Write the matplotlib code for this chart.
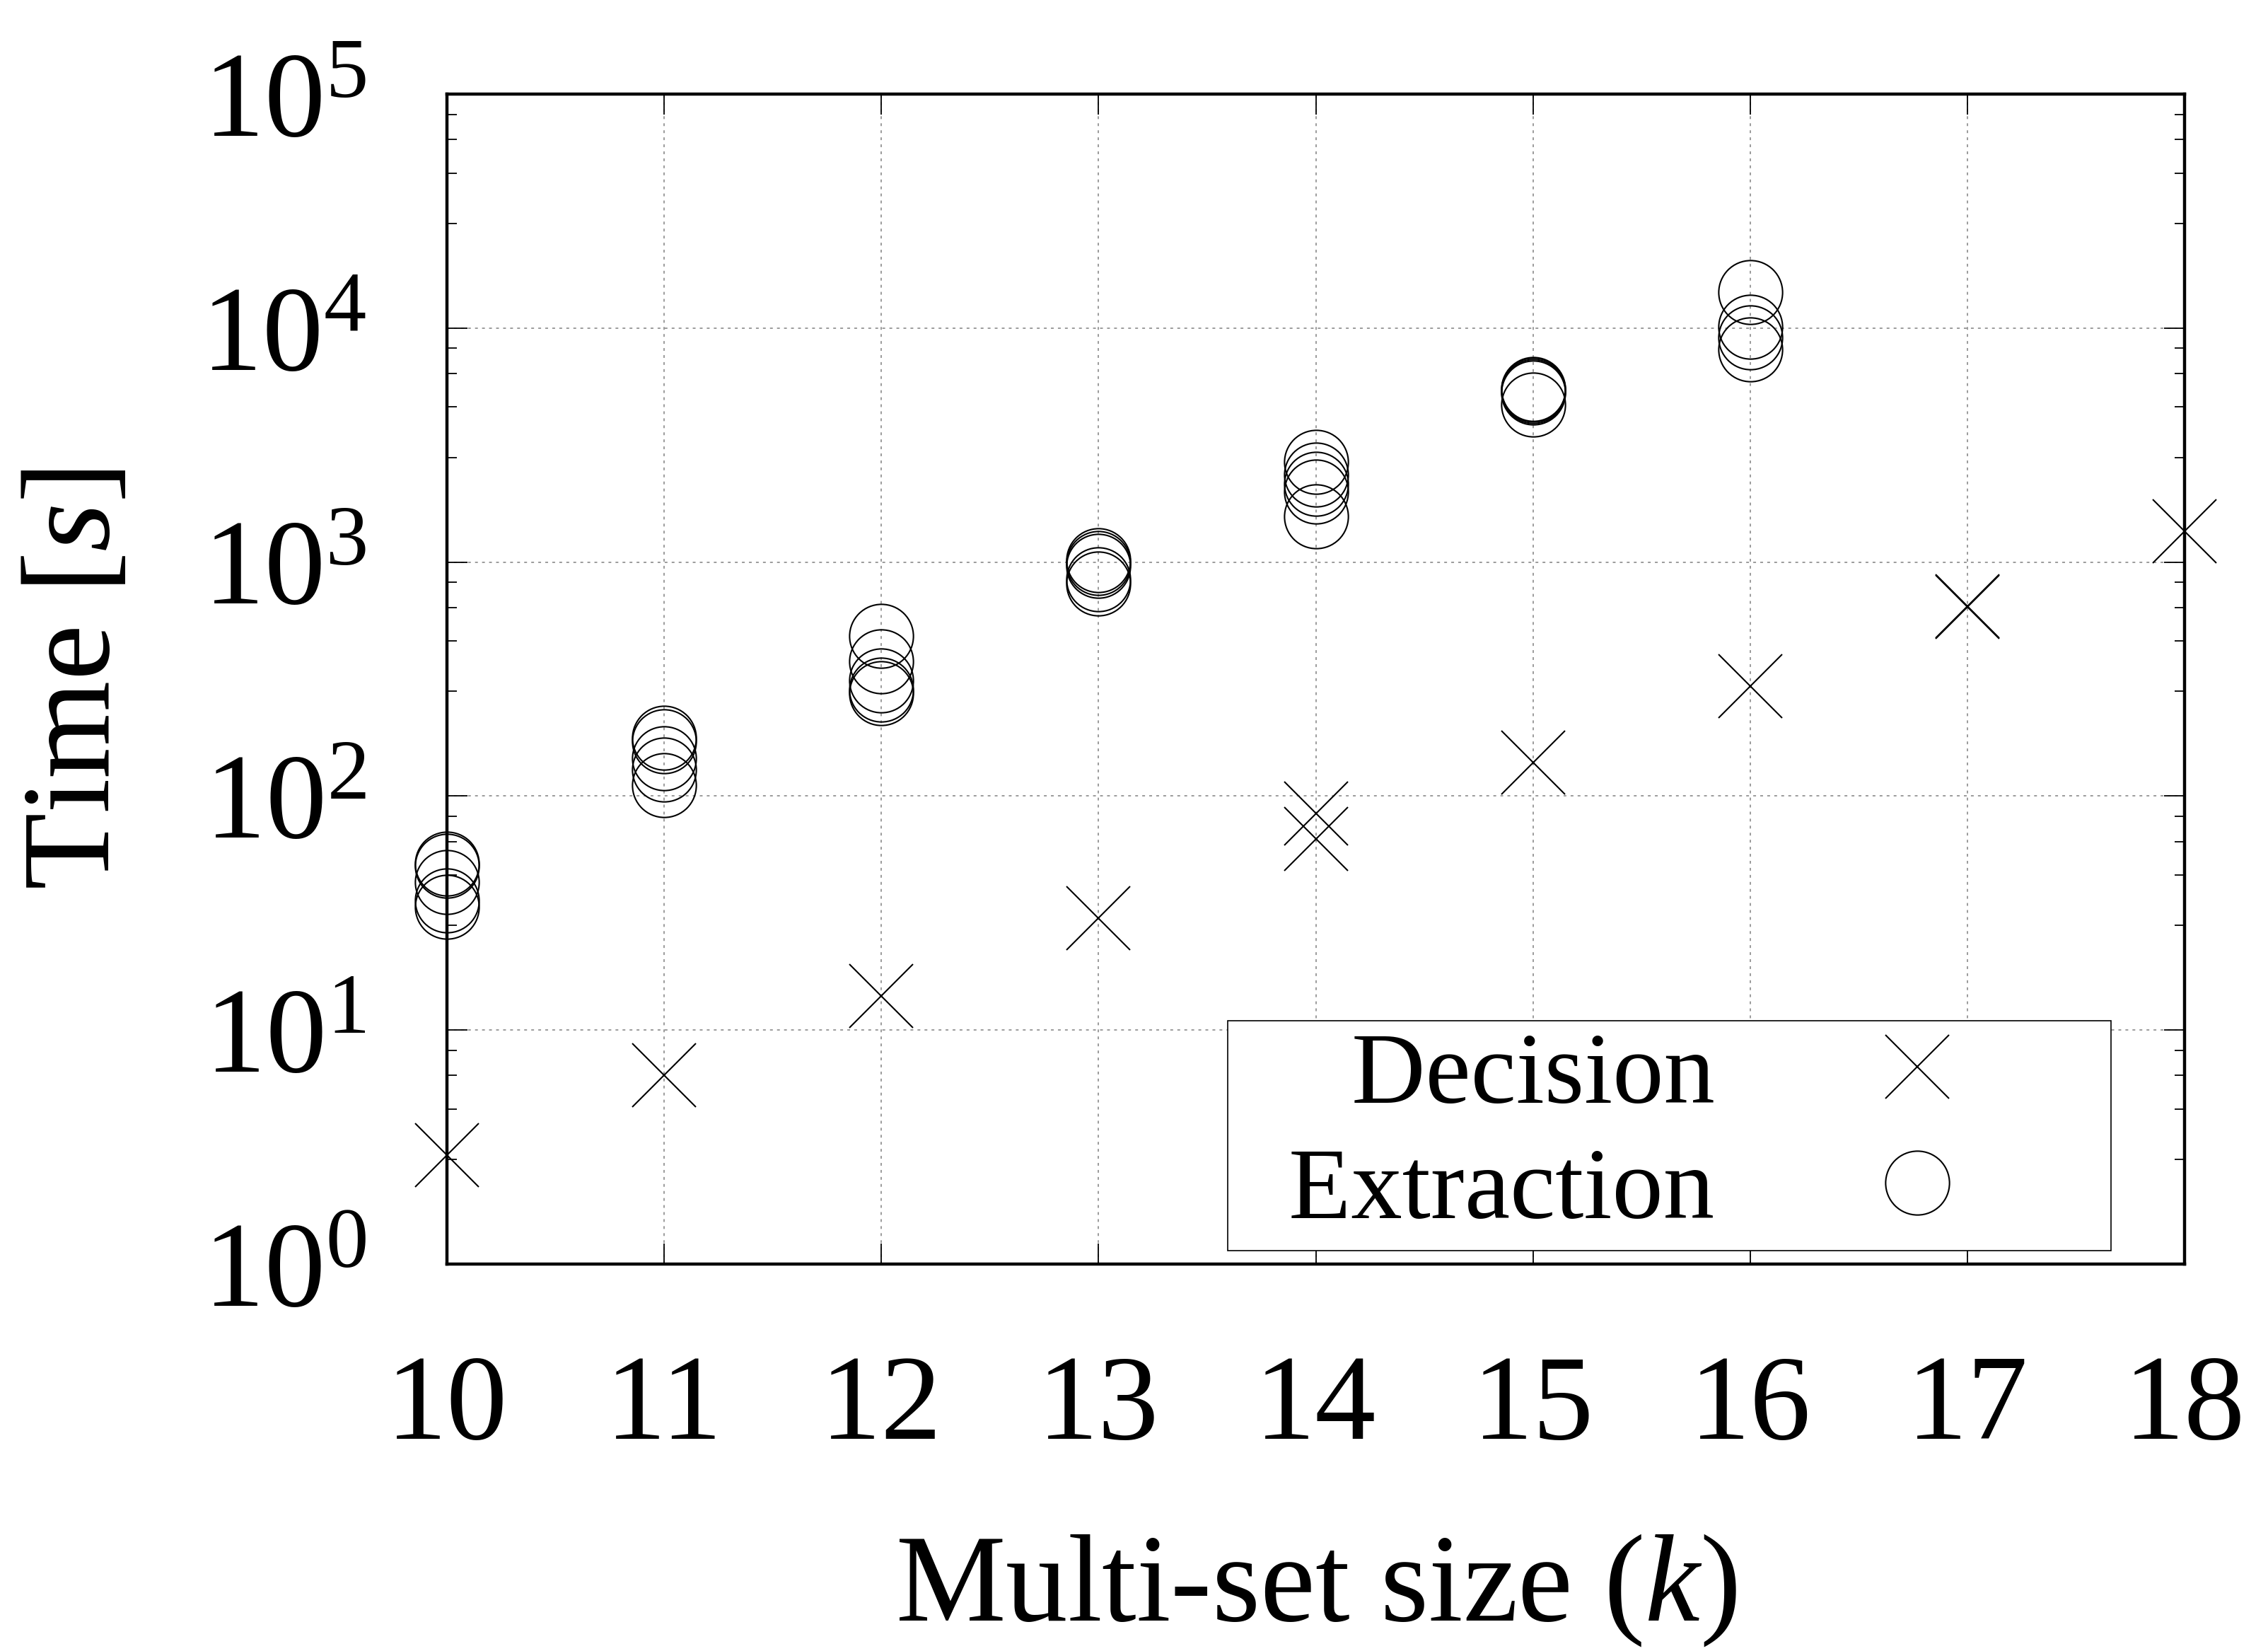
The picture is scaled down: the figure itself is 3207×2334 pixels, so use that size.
import matplotlib
matplotlib.use("Agg")
import matplotlib.pyplot as plt
import numpy as np
from matplotlib.ticker import FixedLocator, FuncFormatter, NullFormatter, NullLocator

# decision runs (x markers)
dec_k = [10, 11, 12, 13, 14, 14, 15, 16, 17, 17, 18]
dec_t = [2.93, 6.4, 14.0, 30.0, 84, 65.5, 139, 295, 641, 646, 1356]

# extraction runs (circle markers)
ext_k = [10, 10, 10, 10, 10,
         11, 11, 11, 11, 11,
         12, 12, 12, 12, 12,
         13, 13, 13, 13, 13,
         14, 14, 14, 14, 14,
         15, 15, 15, 15, 15,
         16, 16, 16, 16]
ext_t = [51.5, 50.2, 42.8, 35.9, 33.6,
         178, 171, 145, 130, 111,
         483, 376, 312, 284, 276,
         1018, 990, 964, 843, 812,
         2680, 2360, 2163, 2000, 1567,
         5480, 5435, 5370, 5300, 4700,
         14210, 10150, 9120, 8120]

x_ticks = [10, 11, 12, 13, 14, 15, 16, 17, 18]
y_ticks = [1, 10, 100, 1000, 10000, 100000]
y_minor_subs = [2.8, 4.6, 6.4, 8.2]

plt.rcParams['font.family'] = ['Liberation Serif', 'DejaVu Serif']
plt.rcParams['mathtext.fontset'] = 'custom'
plt.rcParams['mathtext.rm'] = 'Liberation Serif'
plt.rcParams['mathtext.it'] = 'Liberation Serif:italic'

W, H = 3207, 2334
fig = plt.figure(figsize=(W / 100, H / 100), dpi=100)
ax = fig.add_axes([632 / W, 1 - 1787 / H, (3089 - 632) / W, (1787 - 133) / H])

ax.plot(dec_k, dec_t, ls='none', marker='x', ms=65, mew=1.5, color='black',
        clip_on=False, label='  Decision', zorder=3)
ax.plot(ext_k, ext_t, ls='none', marker='o', ms=65, mew=1.5, mfc='none',
        color='black', clip_on=False, label='  Extraction', zorder=3)

ax.set_yscale('log')
ax.set_xlim(10, 18)
ax.set_ylim(1, 1e5)

ax.xaxis.set_major_locator(FixedLocator(x_ticks))
ax.xaxis.set_minor_locator(NullLocator())
ax.yaxis.set_major_locator(FixedLocator(y_ticks))
minor = [d * s for d in y_ticks[:-1] for s in y_minor_subs]
ax.yaxis.set_minor_locator(FixedLocator(minor))
ax.yaxis.set_minor_formatter(NullFormatter())
ax.yaxis.set_major_formatter(FuncFormatter(lambda v, p: '$10^{%d}$' % round(np.log10(v))))

ax.tick_params(which='both', direction='in', top=True, right=True)
ax.tick_params(which='major', length=21, width=1.3, labelsize=124)
ax.tick_params(which='minor', length=10, width=1.3)
ax.tick_params(axis='x', pad=92)
ax.tick_params(axis='y', pad=82)

for sp in ax.spines.values():
    sp.set_linewidth(3.2)

ax.set_axisbelow(True)
ax.grid(True, which='major', ls=(0, (2.6, 3.9)), lw=1.1, color='#808080')

ax.set_xlabel('Multi-set size ($k$)', fontsize=126)
ax.xaxis.set_label_coords(0.5, -0.229)
ax.set_ylabel('Time [$s$]', fontsize=128)
ax.yaxis.set_label_coords(-0.179, 0.5)

leg = ax.legend(loc='upper left', bbox_to_anchor=(1736 / W, 1 - 1443 / H),
                bbox_transform=fig.transFigure, markerfirst=False, fontsize=104,
                fancybox=False, edgecolor='black', framealpha=1,
                borderpad=0.1, labelspacing=0.22, handlelength=3.6,
                handletextpad=0.18, borderaxespad=0)
leg.get_frame().set_linewidth(1.2)

fig.savefig('out.png', dpi=100)
